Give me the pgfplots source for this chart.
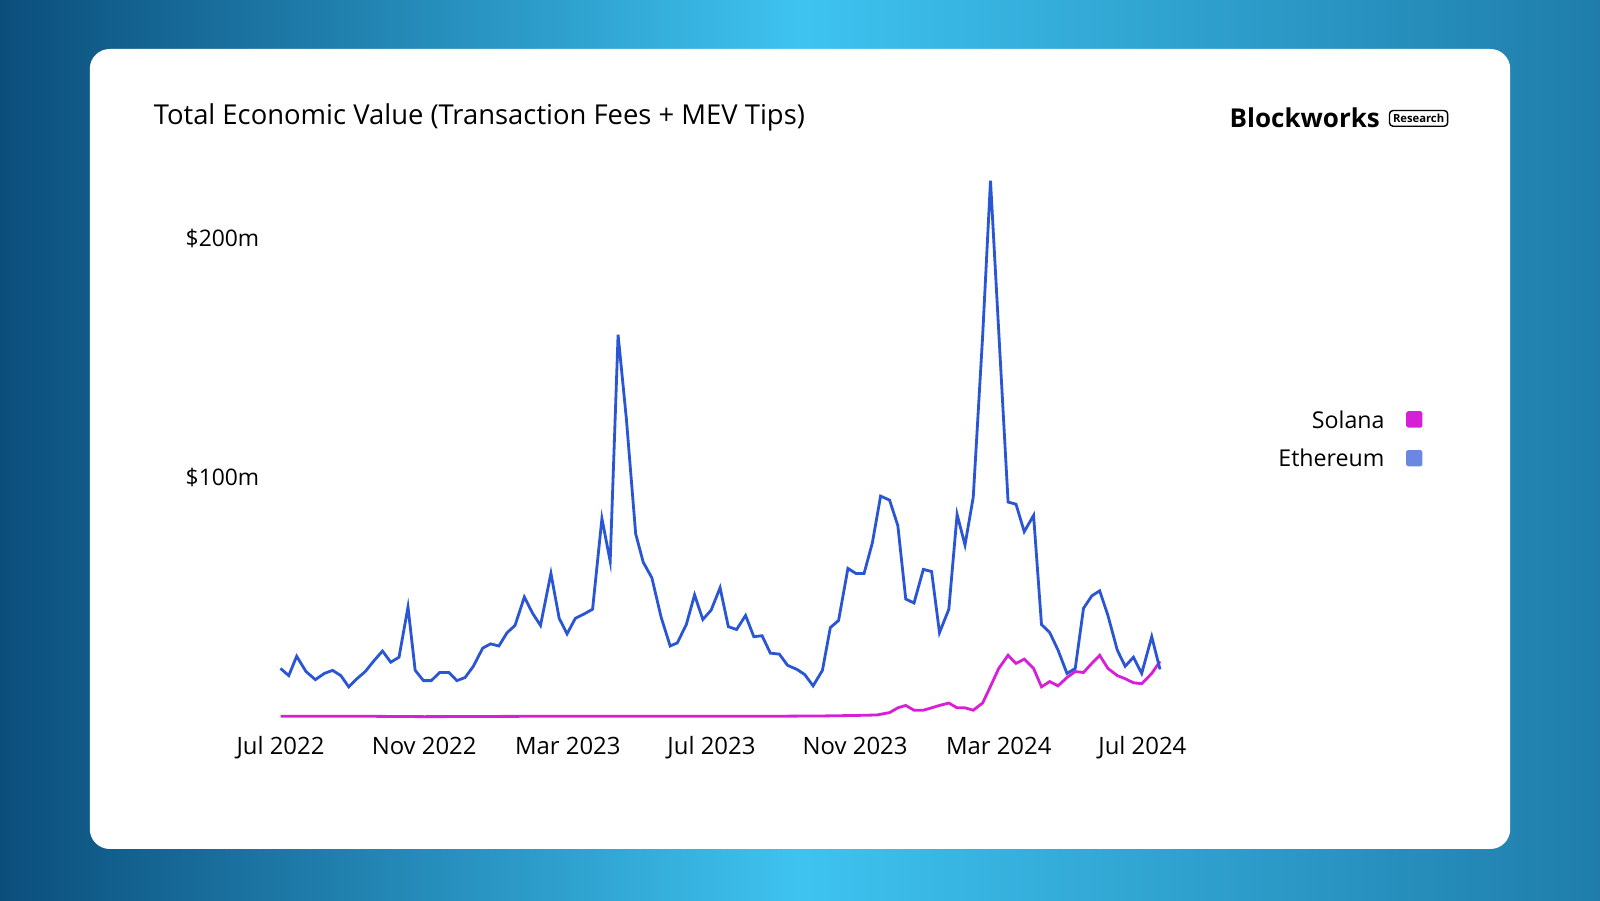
\documentclass[border=0pt]{standalone}
\usepackage{pgfplots}
\pgfplotsset{compat=1.18}
\usepackage{fontspec}
\setmainfont{Open Sans}
\definecolor{eth}{HTML}{2A55D4}
\definecolor{sol}{HTML}{D81FD8}
\definecolor{bgdark}{HTML}{0B4E7C}
\definecolor{bglight}{HTML}{3EC3F0}
\begin{document}
\begin{tikzpicture}[x=0.010204cm,y=0.010204cm]
\shade[left color=bgdark,right color=bgdark!60!bglight,middle color=bglight] (0,0) rectangle (1568,882);
\fill[white,rounded corners=0.2cm] (88,50) rectangle (1480,834);
\node[anchor=west,inner sep=0,font=\fontsize{7.8pt}{9pt}\selectfont] at (150,767) {Total Economic Value (Transaction Fees + MEV Tips)};
\node[anchor=east,font=\fontsize{7.4pt}{9pt}\selectfont\bfseries,inner sep=0] at (1353,767) {Blockworks};
\node[draw,rounded corners=1,inner sep=1pt,font=\fontsize{3.2pt}{4pt}\selectfont\bfseries,anchor=west] at (1361,766) {Research};
\node[font=\fontsize{6.5pt}{8pt}\selectfont] at (218,648) {\$200m};
\node[font=\fontsize{6.5pt}{8pt}\selectfont] at (218,414) {\$100m};
\node[anchor=east,font=\fontsize{6.6pt}{8pt}\selectfont] at (1369,471) {Solana};
\node[anchor=east,font=\fontsize{6.6pt}{8pt}\selectfont] at (1369,433) {Ethereum};
\fill[sol,rounded corners=0.5pt] (1378,463) rectangle (1394,479);
\fill[eth!70!white,rounded corners=0.5pt] (1378,425) rectangle (1394,441);
\begin{axis}[at={(2.806cm,1.827cm)},anchor=south west,scale only axis,
 width=8.622cm,height=4.776cm,xmin=0,xmax=24,ymin=0,ymax=200,
 clip=false,axis line style={draw=none},major tick length=0,
 xtick={0,4,8,12,16,20,24},
 xticklabels={Jul 2022,Nov 2022,Mar 2023,Jul 2023,Nov 2023,Mar 2024,Jul 2024},
 xticklabel style={font=\fontsize{6.8pt}{8pt}\selectfont,yshift=-2pt},
 ytick=\empty]
\addplot[sol,line width=0.8pt] coordinates {
(0,0.5)(2,0.5)(4,0.3)(6,0.4)(8,0.5)(10,0.5)(12,0.5)(14,0.5)(15.1,0.6)(16,0.8)(16.6,1)
(16.96,2)(17.19,4)(17.41,5)(17.64,3)(17.9,3)(18.13,4)(18.35,5)(18.61,6)(18.84,4)(19.06,4)(19.29,3)(19.55,6)(19.77,13)(20.0,20.5)(20.26,26)(20.48,22.6)(20.71,24.4)(20.97,20.5)(21.19,12.8)(21.42,15)(21.65,13.2)(21.9,16.7)(22.13,19.2)(22.36,18.8)(22.59,22.6)(22.81,26)(23.04,20.5)(23.3,17.5)(23.52,16.2)(23.75,14.5)(23.98,14.1)(24.26,18.4)(24.49,23.5)};
\addplot[eth,line width=0.8pt] coordinates {
(0,20.5)(0.23,17.5)(0.45,25.6)(0.71,19.2)(0.97,15.8)(1.22,18.4)(1.45,19.7)(1.68,17.5)(1.9,12.8)(2.13,16.2)(2.36,19.2)(2.59,23.5)(2.84,27.8)(3.07,23.1)(3.3,25.2)(3.55,46.2)(3.75,19.7)(3.98,15.4)(4.2,15.4)(4.43,18.8)(4.69,18.8)(4.91,15.4)(5.14,16.7)(5.37,21.4)(5.63,29)(5.85,30.8)(6.08,29.9)(6.31,35.5)(6.53,38.5)(6.79,50.4)(7.02,43.6)(7.24,38.5)(7.53,60.3)(7.76,41.5)(7.98,35)(8.21,41.5)(8.44,43.2)(8.69,45.3)(8.95,83.3)(9.18,65.4)(9.4,160.3)(9.63,125.2)(9.89,76.9)(10.1,65)(10.34,58.5)(10.6,41.9)(10.85,29.9)(11.05,31.2)(11.3,38.9)(11.53,51.3)(11.76,41)(11.99,44.9)(12.24,54.3)(12.47,38)(12.7,36.8)(12.95,42.7)(13.18,33.8)(13.41,34.2)(13.64,26.9)(13.89,26.5)(14.12,21.8)(14.38,20.1)(14.6,17.9)(14.83,13.2)(15.09,19.7)(15.31,37.6)(15.54,40.6)(15.8,62.4)(16.02,60.3)(16.25,60.3)(16.48,73.1)(16.71,92.7)(16.96,91)(17.19,80.3)(17.41,49.6)(17.64,47.9)(17.9,62)(18.13,61.1)(18.35,35.5)(18.61,45.3)(18.84,85)(19.06,72.2)(19.29,92.3)(19.55,159.4)(19.77,224.8)(20.0,161.5)(20.26,90.2)(20.48,89.3)(20.71,77.8)(20.97,84.6)(21.19,38.9)(21.42,35.5)(21.65,28.2)(21.9,18.4)(22.13,20.5)(22.36,45.7)(22.59,50.9)(22.81,53)(23.04,42.7)(23.3,28.2)(23.52,21.4)(23.75,25.2)(23.98,18.4)(24.26,33.8)(24.49,20.1)};
\end{axis}
\end{tikzpicture}
\end{document}
